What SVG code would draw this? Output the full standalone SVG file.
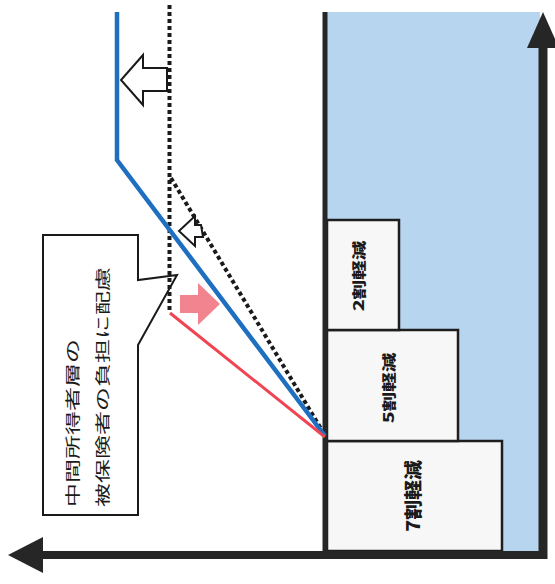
<svg xmlns="http://www.w3.org/2000/svg" width="555" height="584" viewBox="0 0 555 584">
<style>
.axis{stroke:#262626;fill:none}
.head{fill:#262626}
.box{fill:#f7f7f7;stroke:#1e1e1e;stroke-width:2.5}
.btxt{font-family:"Noto Sans CJK JP","Noto Sans CJK SC",sans-serif;font-weight:900;fill:#1a1a1a;text-anchor:middle;dominant-baseline:central}
.ctxt{font-family:"Noto Sans CJK JP","Noto Sans CJK SC",sans-serif;font-size:15px;fill:#1a1a1a;dominant-baseline:central}
.dot{stroke:#1a1a1a;stroke-width:4;stroke-dasharray:4 3;fill:none}
.hollow{fill:#ffffff;stroke:#1a1a1a;stroke-width:2;stroke-linejoin:miter}
</style>
<rect width="555" height="584" fill="#ffffff"/>
<g id="background">
<rect x="327" y="12" width="213" height="540" fill="#b8d5f0"/>
</g>
<g id="box-7">
<rect class="box" x="327" y="441" width="175" height="110"/>
<text class="btxt" font-size="18" transform="translate(412,496) rotate(-90) scale(1.1,1)">7割軽減</text>
</g>
<g id="box-5">
<rect class="box" x="327" y="330" width="131" height="111"/>
<text class="btxt" font-size="14" transform="translate(388,388) rotate(-90) scale(1.4,1)">5割軽減</text>
</g>
<g id="box-2">
<rect class="box" x="327" y="220" width="72" height="110"/>
<text class="btxt" font-size="14" transform="translate(357.5,276) rotate(-90) scale(1.4,1)">2割軽減</text>
</g>
<g id="axes">
<line class="axis" x1="325" y1="12" x2="325" y2="559" stroke-width="5"/>
<line class="axis" x1="543" y1="44" x2="543" y2="559" stroke-width="9"/>
<polygon class="head" points="543,12 527,48 559,48"/>
<line class="axis" x1="40" y1="555" x2="547" y2="555" stroke-width="8"/>
<polygon class="head" points="8,555 43,537 43,573"/>
</g>
<g id="callout">
<path d="M43,235 H138 V280 L177,275 L138,345 V515 H43 Z" fill="#ffffff" stroke="#1a1a1a" stroke-width="2"/>
<text class="ctxt" transform="translate(71.5,507) rotate(-90) scale(1.6,1)">中間所得者層の</text>
<text class="ctxt" transform="translate(101.5,507) rotate(-90) scale(1.6,1)">被保険者の負担に配慮</text>
</g>
<g id="connectors">
<polyline class="dot" points="169.5,5 169.5,310"/>
<polyline class="dot" points="171,178 323,432"/>
<polyline points="117,12 117,160 325,436" fill="none" stroke="#1f6fc1" stroke-width="4.5"/>
<line x1="170" y1="313" x2="325" y2="437" stroke="#f04452" stroke-width="3"/>
<path class="hollow" d="M167,68 H143 V55 L121,80 L143,105 V91 H167 Z"/>
<path class="hollow" d="M201,225 H195 V216 L179,231 L195,246 V237 H203 Z"/>
<path d="M180,295 H198 V283 L220,304 L198,325 V313 H180 Z" fill="#f2848f"/>
</g>
</svg>
